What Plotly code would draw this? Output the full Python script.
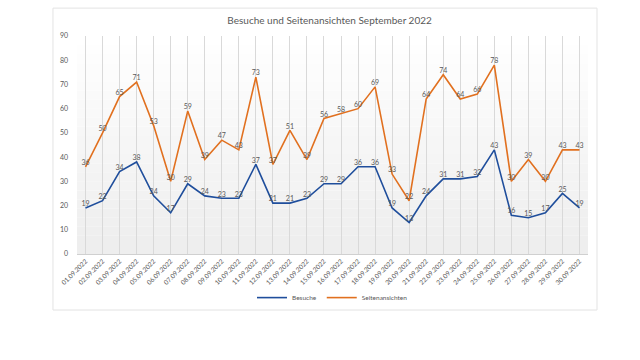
import plotly.graph_objects as go

dates = [f"{d:02d}.09.2022" for d in range(1, 31)]
besuche = [19, 22, 34, 38, 24, 17, 29, 24, 23, 23, 37, 21, 21, 23, 29, 29, 36, 36, 19, 13,
           24, 31, 31, 32, 43, 16, 15, 17, 25, 19]
seiten = [36, 50, 65, 71, 53, 30, 59, 39, 47, 43, 73, 37, 51, 39, 56, 58, 60, 69, 33, 22,
          64, 74, 64, 66, 78, 30, 39, 30, 43, 43]
y_ticks = [0, 10, 20, 30, 40, 50, 60, 70, 80, 90]

fig = go.Figure()
fig.add_trace(go.Scatter(
    x=dates, y=besuche, name="Besuche", mode="lines+text",
    line=dict(color="#1f4e9c", width=1.6),
    text=[str(v) for v in besuche], textposition="top center",
    textfont=dict(size=7, color="#595959", family="Lato"),
))
fig.add_trace(go.Scatter(
    x=dates, y=seiten, name="Seitenansichten", mode="lines+text",
    line=dict(color="#e1701f", width=1.6),
    text=[str(v) for v in seiten], textposition="top center",
    textfont=dict(size=7, color="#595959", family="Lato"),
))

# gradient background bands inside plot area
shapes = []
n = 24
for i in range(n):
    t = i / (n - 1)
    c = int(255 - 17 * (1 - t))
    shapes.append(dict(type="rect", xref="paper", yref="paper",
                       x0=0, x1=1, y0=i / n, y1=(i + 1) / n,
                       fillcolor=f"rgb({c},{c},{c})", line=dict(width=0), layer="below"))
# outer chart border
shapes.append(dict(type="rect", xref="paper", yref="paper",
                   x0=-0.047, x1=1.0176, y0=-0.257, y1=1.128,
                   line=dict(color="#e3e3e3", width=1), fillcolor="rgba(0,0,0,0)", layer="below"))

fig.update_layout(
    width=640, height=360,
    margin=dict(l=77, r=52, t=36, b=106),
    paper_bgcolor="white", plot_bgcolor="rgba(0,0,0,0)",
    font=dict(family="Lato", color="#595959"),
    title=dict(text="Besuche und Seitenansichten September 2022", x=0.515, xanchor="center",
               y=0.944, yanchor="middle", font=dict(size=10, color="#595959", family="Lato")),
    shapes=shapes,
    showlegend=True,
    legend=dict(orientation="h", x=0.5, xanchor="center", y=-0.2, yanchor="middle",
                font=dict(size=6.5, color="#595959"), bgcolor="rgba(0,0,0,0)",
                itemwidth=30, tracegroupgap=0),
    xaxis=dict(showgrid=True, gridcolor="#d9d9d9", gridwidth=1, tickangle=-45,
               range=[-0.5, len(dates) - 0.5],
               tickfont=dict(size=6.5, color="#595959"), showline=True, linecolor="#d0d0d0",
               ticks="", zeroline=False, fixedrange=True),
    yaxis=dict(range=[0, 90], tickvals=y_ticks, showgrid=False, zeroline=False,
               tickfont=dict(size=7, color="#595959"), ticks="", showline=False,
               ticklabelstandoff=8),
)

fig.write_html("out.html", config={"displayModeBar": False},
               post_script="document.body.style.margin='0';")
